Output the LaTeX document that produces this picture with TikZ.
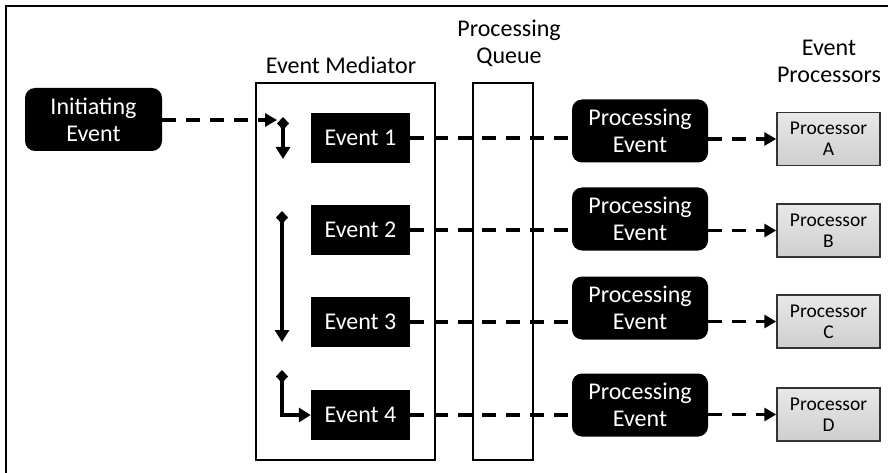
\documentclass[tikz,border=0pt]{standalone}
\usepackage{fontspec}
\setmainfont{Carlito}
\usetikzlibrary{arrows.meta,calc}
\tikzset{
  bigtxt/.style={font=\fontsize{24}{27}\selectfont},
  smalltxt/.style={font=\fontsize{19.5}{21}\selectfont},
  blackbox/.style={fill=black,text=white,bigtxt,align=center,inner sep=0pt},
  roundbox/.style={blackbox,rounded corners=10pt},
  procbox/.style={draw=black!80,line width=1.5pt,top color=gray!18,bottom color=gray!38,smalltxt,align=center,inner sep=0pt,minimum width=103pt,minimum height=53pt},
  lane/.style={draw=black,line width=1.2pt},
  dashline/.style={line width=3.5pt,dash pattern=on 14pt off 10pt},
  dasharrow/.style={dashline,-{Triangle[length=12pt,width=13pt]}},
  flowarrow/.style={line width=3.3pt,{Diamond[length=13pt,width=12pt]}-{Triangle[length=12pt,width=14pt]}},
  lbl/.style={bigtxt,align=center,inner sep=0pt}
}
\begin{document}
\begin{tikzpicture}[x=1pt,y=-1pt]
\useasboundingbox (0,0) rectangle (888,473);
% frame
\draw[line width=2.5pt] (6,473) -- (6,6) -- (888,6);
% lanes
\node[lane,minimum width=179pt,minimum height=377pt,inner sep=0pt] (med) at (345.5,271.5) {};
\node[lane,minimum width=60pt,minimum height=377pt,inner sep=0pt] (queue) at (503,271.5) {};
% labels
\node[lbl] (lmed) at (341,65) {Event Mediator};
\node[lbl] (lqueue) at (509,43) {Processing\\Queue};
\node[lbl] (lproc) at (829,61) {Event\\Processors};
% initiating event
\node[roundbox,minimum width=137pt,minimum height=63pt] (init) at (93.5,119.5) {Initiating\\Event};
% events
\node[blackbox,minimum width=99pt,minimum height=50pt] (ev1) at (360.5,138) {Event 1};
\node[blackbox,minimum width=99pt,minimum height=50pt] (ev2) at (360.5,230) {Event 2};
\node[blackbox,minimum width=99pt,minimum height=50pt] (ev3) at (360.5,322) {Event 3};
\node[blackbox,minimum width=99pt,minimum height=50pt] (ev4) at (360.5,415) {Event 4};
% processing events
\node[roundbox,minimum width=136pt,minimum height=63pt] (pe1) at (640,131) {Processing\\Event};
\node[roundbox,minimum width=136pt,minimum height=63pt] (pe2) at (640,219) {Processing\\Event};
\node[roundbox,minimum width=136pt,minimum height=63pt] (pe3) at (640,308) {Processing\\Event};
\node[roundbox,minimum width=136pt,minimum height=63pt] (pe4) at (640,405) {Processing\\Event};
% processors
\node[procbox] (pr1) at (828.5,139) {Processor\\A};
\node[procbox] (pr2) at (828.5,230.5) {Processor\\B};
\node[procbox] (pr3) at (828.5,321.5) {Processor\\C};
\node[procbox] (pr4) at (828.5,414.5) {Processor\\D};
% coordinates for internal flow
\coordinate (t0) at (277,120);
\coordinate (a1s) at (283,117);
\coordinate (a1e) at (283,159);
\coordinate (a2s) at (282,211);
\coordinate (a2e) at (282,342);
\coordinate (a4s) at (282,370);
% connectors
\draw[dasharrow] (init.east |- t0) -- (t0);
\draw[flowarrow] (a1s) -- (a1e);
\draw[flowarrow] (a2s) -- (a2e);
\draw[flowarrow] (a4s) |- (ev4.west);
\foreach \i in {1,2,3,4}{
  \draw[dashline] (ev\i.east) -- (ev\i.east -| pe\i.west);
  \draw[dasharrow] (pr\i.west -| pe\i.east) -- (pr\i.west);
}
\end{tikzpicture}
\end{document}
